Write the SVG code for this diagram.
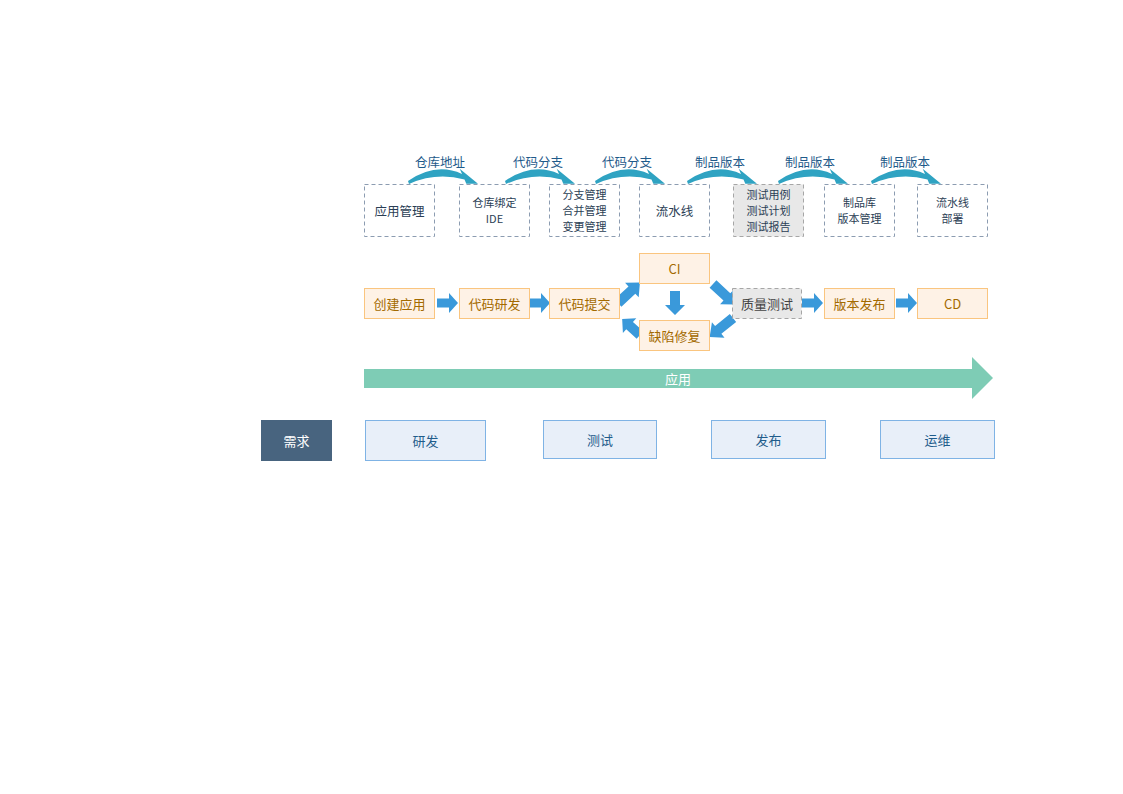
<svg xmlns="http://www.w3.org/2000/svg" xmlns:xlink="http://www.w3.org/1999/xlink" width="1123" height="794" viewBox="0 0 1123 794">
<style>
text{font-family:"Noto Sans CJK SC","Liberation Sans",sans-serif;font-size:13px;text-anchor:middle;dominant-baseline:central}
.dash{fill:#fff;stroke:#8C9CB1;stroke-width:1;stroke-dasharray:4,3}
.dashg{fill:#E8E8E8;stroke:#A6A6A6;stroke-width:1;stroke-dasharray:4,3}
.dt{fill:#2B3E55;font-size:12.5px}
.ml{fill:#2B3E55;font-size:11px}
.lbl{fill:#1E5A8A;font-size:12.5px}
.or{fill:#FEF2E6;stroke:#FAC57F;stroke-width:1}
.ot{fill:#A36A00}
.gt{fill:#444}
.blue{fill:#3A99DA}
.curve{fill:#2FA3C2}
.bb{fill:#E8EFF9;stroke:#7FB3E5;stroke-width:1}
.bt{fill:#1F5C8B}
</style>
<defs>
<path id="ca" d="M0,-1 Q28,-20 54,-8 L51.7,-13.3 L70,1.7 L58.3,1.7 L56.5,-2.5 Q28,-10 1,2 Z"/>
<path id="a21" d="M0,-4.5 L12,-4.5 L12,-10 L21,0 L12,10 L12,4.5 L0,4.5 Z"/>
<path id="a24" d="M0,-5 L14,-5 L14,-10 L24,0 L14,10 L14,5 L0,5 Z"/>
<path id="a30" d="M0,-5 L19,-5 L19,-10 L30,0 L19,10 L19,5 L0,5 Z"/>
</defs>

<g id="connectors">
<use xlink:href="#ca" class="curve" transform="translate(408,182)"/>
<use xlink:href="#ca" class="curve" transform="translate(505,182)"/>
<use xlink:href="#ca" class="curve" transform="translate(595,182)"/>
<use xlink:href="#ca" class="curve" transform="translate(687,182)"/>
<use xlink:href="#ca" class="curve" transform="translate(778,182)"/>
<use xlink:href="#ca" class="curve" transform="translate(871,182)"/>
<text class="lbl" x="440" y="161">仓库地址</text>
<text class="lbl" x="538" y="161">代码分支</text>
<text class="lbl" x="627" y="161">代码分支</text>
<text class="lbl" x="720" y="161">制品版本</text>
<text class="lbl" x="810" y="161">制品版本</text>
<text class="lbl" x="905" y="161">制品版本</text>

<use xlink:href="#a21" class="blue" transform="translate(437,303)"/>
<use xlink:href="#a21" class="blue" transform="translate(529,303)"/>
<use xlink:href="#a21" class="blue" transform="translate(802,303)"/>
<use xlink:href="#a21" class="blue" transform="translate(896,303)"/>
<use xlink:href="#a30" class="blue" transform="translate(618,303) rotate(-43)"/>
<use xlink:href="#a24" class="blue" transform="translate(675,291) rotate(90)"/>
<use xlink:href="#a30" class="blue" transform="translate(713,284) rotate(43)"/>
<use xlink:href="#a30" class="blue" transform="translate(733,318) rotate(141)"/>
<use xlink:href="#a24" class="blue" transform="translate(640,335) rotate(-138)"/>

<path d="M364,369 L972,369 L972,357 L993,378 L972,399 L972,388 L364,388 Z" fill="#7ECCB5"/>
<text x="678" y="378" fill="#fff" font-size="12">应用</text>
</g>

<g id="n-app-mgmt"><rect class="dash" x="364.5" y="184.5" width="70" height="52"/><text class="dt" x="399.5" y="210">应用管理</text></g>
<g id="n-repo-bind"><rect class="dash" x="459.5" y="184.5" width="70" height="52"/><text class="ml" x="494.5" y="202">仓库绑定<tspan x="494.5" dy="16">IDE</tspan></text></g>
<g id="n-branch"><rect class="dash" x="549.5" y="184.5" width="70" height="52"/><text class="ml" x="584.5" y="194">分支管理<tspan x="584.5" dy="16">合并管理</tspan><tspan x="584.5" dy="16">变更管理</tspan></text></g>
<g id="n-pipeline"><rect class="dash" x="639.5" y="184.5" width="70" height="52"/><text class="dt" x="674.5" y="210">流水线</text></g>
<g id="n-testcase"><rect class="dashg" x="733.5" y="184.5" width="70" height="52"/><text class="ml" x="768.5" y="194">测试用例<tspan x="768.5" dy="16">测试计划</tspan><tspan x="768.5" dy="16">测试报告</tspan></text></g>
<g id="n-artifact"><rect class="dash" x="824.5" y="184.5" width="70" height="52"/><text class="ml" x="859.5" y="202">制品库<tspan x="859.5" dy="16">版本管理</tspan></text></g>
<g id="n-deploy"><rect class="dash" x="917.5" y="184.5" width="70" height="52"/><text class="ml" x="952.5" y="202">流水线<tspan x="952.5" dy="16">部署</tspan></text></g>

<g id="n-create"><rect class="or" x="364.5" y="288.5" width="70" height="30"/><text class="ot" x="399.5" y="303">创建应用</text></g>
<g id="n-dev"><rect class="or" x="459.5" y="288.5" width="70" height="30"/><text class="ot" x="494.5" y="303">代码研发</text></g>
<g id="n-commit"><rect class="or" x="549.5" y="288.5" width="70" height="30"/><text class="ot" x="584.5" y="303">代码提交</text></g>
<g id="n-ci"><rect class="or" x="639.5" y="253.5" width="70" height="30"/><text class="ot" x="674.5" y="268">CI</text></g>
<g id="n-fix"><rect class="or" x="639.5" y="320.5" width="70" height="30"/><text class="ot" x="674.5" y="335">缺陷修复</text></g>
<g id="n-qa"><rect class="dashg" x="732.5" y="288.5" width="69" height="30"/><text class="gt" x="767" y="303">质量测试</text></g>
<g id="n-release"><rect class="or" x="824.5" y="288.5" width="70" height="30"/><text class="ot" x="859.5" y="303">版本发布</text></g>
<g id="n-cd"><rect class="or" x="917.5" y="288.5" width="70" height="30"/><text class="ot" x="952.5" y="303">CD</text></g>

<g id="n-req"><rect x="261" y="420" width="71" height="41" fill="#48647F"/><text x="296.5" y="440.5" fill="#fff">需求</text></g>
<g id="n-rd"><rect class="bb" x="365.5" y="420.5" width="120" height="40"/><text class="bt" x="425.5" y="440.5">研发</text></g>
<g id="n-test"><rect class="bb" x="543.5" y="420.5" width="113" height="38"/><text class="bt" x="600" y="439.5">测试</text></g>
<g id="n-pub"><rect class="bb" x="711.5" y="420.5" width="114" height="38"/><text class="bt" x="768.5" y="439.5">发布</text></g>
<g id="n-ops"><rect class="bb" x="880.5" y="420.5" width="114" height="38"/><text class="bt" x="937.5" y="439.5">运维</text></g>
</svg>
